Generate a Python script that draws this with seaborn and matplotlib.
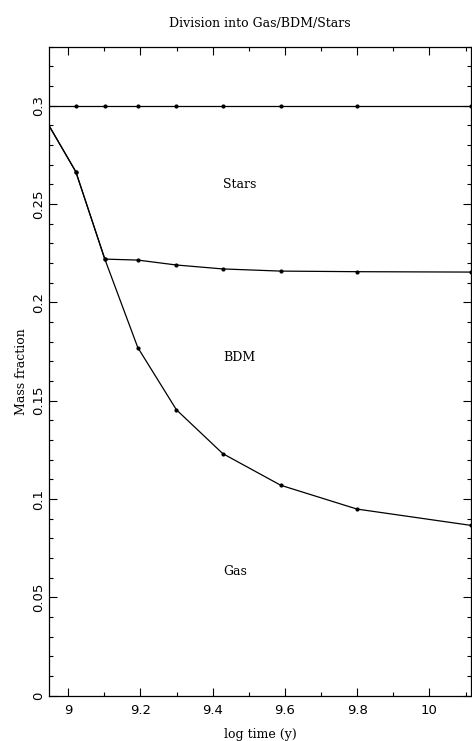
import matplotlib
matplotlib.use("Agg")
import matplotlib.pyplot as plt
import seaborn as sns
import pandas as pd
from matplotlib.ticker import MultipleLocator

log_time = [8.915, 9.0213, 9.1015, 9.1928, 9.2996, 9.4279, 9.5884, 9.7994, 10.115]
total = [0.300, 0.300, 0.300, 0.300, 0.300, 0.300, 0.300, 0.300, 0.300]
gas_bdm = [0.300, 0.2664, 0.2220, 0.2215, 0.2190, 0.2170, 0.2159, 0.2156, 0.2154]
gas = [0.300, 0.2664, 0.2220, 0.1770, 0.1454, 0.1231, 0.1070, 0.0949, 0.0866]

region_labels = ["Stars", "BDM", "Gas"]
label_x = [9.429, 9.429, 9.429]
label_y = [0.260, 0.172, 0.0633]

sns.set_theme(style="ticks")
plt.rcParams['font.family'] = ['DejaVu Serif', 'DejaVu Sans']
plt.rcParams['text.color'] = 'black'
plt.rcParams['axes.labelcolor'] = 'black'
plt.rcParams['xtick.color'] = 'black'
plt.rcParams['ytick.color'] = 'black'

fig = plt.figure(figsize=(4.72, 7.41), dpi=100)
ax = fig.add_axes([49/472, 1 - 695.7/741, 422/472, (695.7 - 46.7)/741])

for name, ys in [("total", total), ("gas_bdm", gas_bdm), ("gas", gas)]:
    df = pd.DataFrame({"x": log_time, "y": ys})
    sns.lineplot(data=df, x="x", y="y", ax=ax, color="black", lw=0.9,
                 marker="o", markersize=3, markeredgewidth=0, sort=False,
                 clip_on=True)

for t, xx, yy in zip(region_labels, label_x, label_y):
    ax.text(xx, yy, t, ha="left", va="center", fontsize=9, color="black")

ax.set_xlim(8.947, 10.115)
ax.set_ylim(0, 0.33)
ax.xaxis.set_minor_locator(MultipleLocator(0.1))
ax.yaxis.set_minor_locator(MultipleLocator(0.01))
ax.set_xticks([9.0, 9.2, 9.4, 9.6, 9.8, 10.0])
ax.set_xticklabels(["9", "9.2", "9.4", "9.6", "9.8", "10"])
ax.set_yticks([0, 0.05, 0.1, 0.15, 0.2, 0.25, 0.3])
ax.set_yticklabels(["0", "0.05", "0.1", "0.15", "0.2", "0.25", "0.3"], rotation=90, va="center")
ax.tick_params(which="both", direction="in", top=True, right=True, color="black", width=0.8)
ax.tick_params(which="major", length=6, labelsize=9.5)
ax.tick_params(axis="x", which="major", pad=6)
ax.tick_params(axis="y", which="major", pad=3)
ax.tick_params(which="minor", length=3)
for lab in ax.get_xticklabels() + ax.get_yticklabels():
    lab.set_family("DejaVu Sans")
    lab.set_color("black")
for s in ax.spines.values():
    s.set_color("black")
    s.set_linewidth(0.9)

ax.set_xlabel("log time (y)", fontsize=9, labelpad=8)
ax.set_ylabel("Mass fraction", fontsize=9, labelpad=3)
ax.set_title("Division into Gas/BDM/Stars", fontsize=9, pad=24, color="black")
ax.title.set_position((0.5, 1.0))
ax.title.set_y(1.0 + 0.0)
fig.texts  # no-op
ax.set_title("Division into Gas/BDM/Stars", fontsize=9, pad=14, color="black")

fig.savefig("out.png", dpi=100)
